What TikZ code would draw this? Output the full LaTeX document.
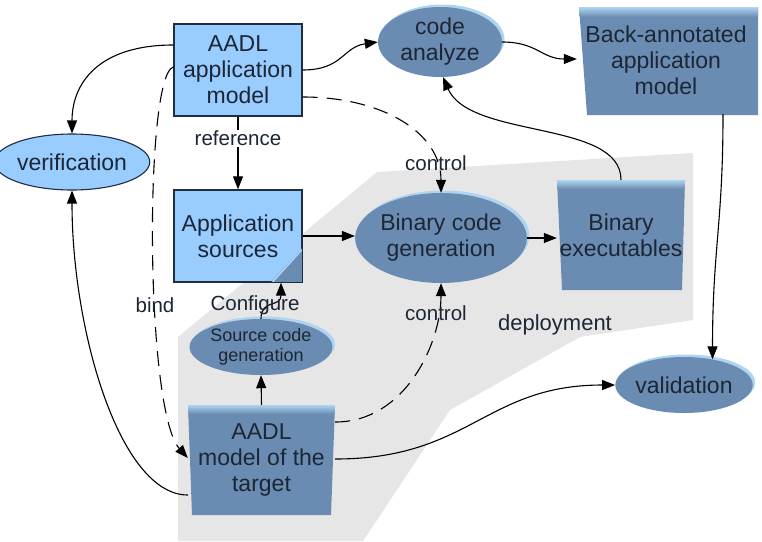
\documentclass[tikz,border=0pt]{standalone}
\usepackage{fontspec}
\setmainfont{Liberation Sans}
\usetikzlibrary{arrows.meta,shapes.geometric,shadows,calc}
\definecolor{lightb}{RGB}{153,204,255}
\definecolor{steel}{RGB}{106,140,178}
\definecolor{rim}{RGB}{175,212,240}
\definecolor{edgec}{RGB}{30,45,65}
\definecolor{txt}{RGB}{28,38,52}
\definecolor{zone}{RGB}{230,230,230}
\newcommand\bigtxt{\fontsize{23}{26}\selectfont}
\newcommand\midtxt{\fontsize{20.5}{23}\selectfont}
\newcommand\smalltxt{\fontsize{18}{20.5}\selectfont}
\begin{document}
\begin{tikzpicture}[x=1pt,y=1pt,
  conn/.style={line width=1.1pt, draw=black, -{Triangle[length=13pt,width=10pt]}},
  dashconn/.style={conn, dash pattern=on 15pt off 9pt},
  lbox/.style={rectangle, draw=edgec, line width=1.4pt, fill=lightb, inner sep=0pt,
    align=center, font=\bigtxt, text=txt, minimum width=128pt, minimum height=92pt},
  lell/.style={ellipse, draw=edgec, line width=1.1pt, fill=lightb, inner sep=0pt,
    font=\bigtxt, text=txt},
  sell/.style={ellipse, fill=steel, inner sep=0pt, align=center, font=\bigtxt, text=txt,
    general shadow={fill=rim, shadow xshift=2.5pt, shadow yshift=2.5pt}},
  stext/.style={rectangle, inner sep=0pt, align=center, font=\bigtxt, text=txt},
  lbl/.style={font=\midtxt, text=txt, inner sep=1pt},
]
\useasboundingbox (0,0) rectangle (762,-541);

% deployment zone
\fill[zone] (178,-541) -- (178,-337) -- (377,-172) -- (693,-153) -- (693,-320)
  -- (580,-337) -- (450,-410) -- (363,-541) -- cycle;
\node[lbl, font=\fontsize{22}{25}\selectfont] (dep) at (555,-325) {deployment};

% bevelled blocks
\fill[steel] (579,-7) -- (758,-7) -- (758,-115) -- (587,-115) -- cycle;
\shade[top color=rim, bottom color=steel] (579,-7) -- (758,-7) -- (758,-17) -- (579.8,-17) -- cycle;
\node[stext, minimum width=178pt, minimum height=108pt] (ba) at (666,-60)
  {Back-annotated\\application\\model};

\fill[steel] (557,-180) -- (685,-180) -- (682,-290) -- (562,-290) -- cycle;
\shade[top color=rim, bottom color=steel] (557,-180) -- (685,-180) -- (684.8,-189) -- (557.4,-189) -- cycle;
\node[stext, minimum width=128pt, minimum height=110pt] (be) at (621,-235)
  {Binary\\executables};

\fill[steel] (188,-405) -- (335,-405) -- (331,-515) -- (192,-515) -- cycle;
\shade[top color=rim, bottom color=steel] (188,-405) -- (335,-405) -- (334.7,-414) -- (188.3,-414) -- cycle;
\node[stext, minimum width=147pt, minimum height=110pt] (tgt) at (261.5,-460)
  {AADL\\model of the\\target};

% light blue model blocks
\node[lbox] (ap) at (238,-70) {AADL\\application\\model};
\node[lbox] (as) at (238,-236) {Application\\sources};
\fill[steel] ($(as.south east)+(0,35)$) -- (as.south east) -- ($(as.south east)+(-32,0)$) -- cycle;
\draw[rim, line width=1.5pt] ($(as.south east)+(-0.8,33)$) -- ($(as.south east)+(-30,0.8)$);
\draw[edgec, line width=1.4pt] (as.north west) rectangle (as.south east);

% ellipses
\node[lell, minimum width=130pt, minimum height=56pt] (ver) at (72,-162) {verification};
\node[sell, minimum width=124pt, minimum height=70pt] (ca) at (440,-42) {code\\analyze};
\node[sell, minimum width=162pt, minimum height=90pt] (bcg) at (441,-238) {Binary code\\generation};
\node[sell, minimum width=142pt, minimum height=56pt, font=\smalltxt] (scg) at (261,-347) {Source code\\generation};
\node[sell, minimum width=124pt, minimum height=56pt] (val) at (684,-385) {validation};

% connectors
\draw[conn] (ap.east) .. controls +(40,0) and +(-35,-5) .. (ca.west);
\draw[conn] ([yshift=25pt]ap.west) .. controls +(-75,0) and +(0,50) .. (ver.north);
\draw[conn] (ca.east) .. controls +(35,0) and +(-35,0) .. ([yshift=1pt]ba.west);
\draw[dashconn] ([yshift=-27pt]ap.east) .. controls +(80,0) and +(0,60) .. (bcg.north);
\node[lbl] (ctla) at (436,-163) {control};
\draw[conn] (ap.south) -- (as.north) node[lbl, pos=0.3, fill=white] (refl) {reference};
\draw[conn] (as.east) -- (as.east -| bcg.west);
\draw[conn] (bcg.east) -- (bcg.east -| be.west);
\draw[conn] (be.north) .. controls +(0,60) and +(27,-62) .. ([xshift=3pt]ca.south);
\draw[conn] ([xshift=57pt]ba.south) .. controls +(0,-110) and +(0,110) .. (val.42);
\draw[conn] (tgt.north) -- (scg.south);
\draw[conn] (scg.north) .. controls +(0,20) and +(0,-25) .. ([xshift=43pt]as.south);
\node[lbl] (cfg) at (255,-305) {Configure};
\draw[dashconn] ([yshift=38pt]tgt.east) .. controls +(70,0) and +(0,-60) .. (bcg.south);
\node[lbl] (ctlb) at (436,-313) {control};
\draw[conn] ([yshift=1pt]tgt.east) .. controls +(135,0) and +(-130,0) .. (val.west);
\draw[conn] ([yshift=-35pt]tgt.west) .. controls +(-68,0) and +(0,-140) .. (ver.south);
\draw[dashconn] ([yshift=3pt]ap.west) .. controls +(-29,-8) and +(-43,48) .. ([yshift=2pt]tgt.west);
\node[lbl] (bindl) at (155,-305) {bind};
\end{tikzpicture}
\end{document}
